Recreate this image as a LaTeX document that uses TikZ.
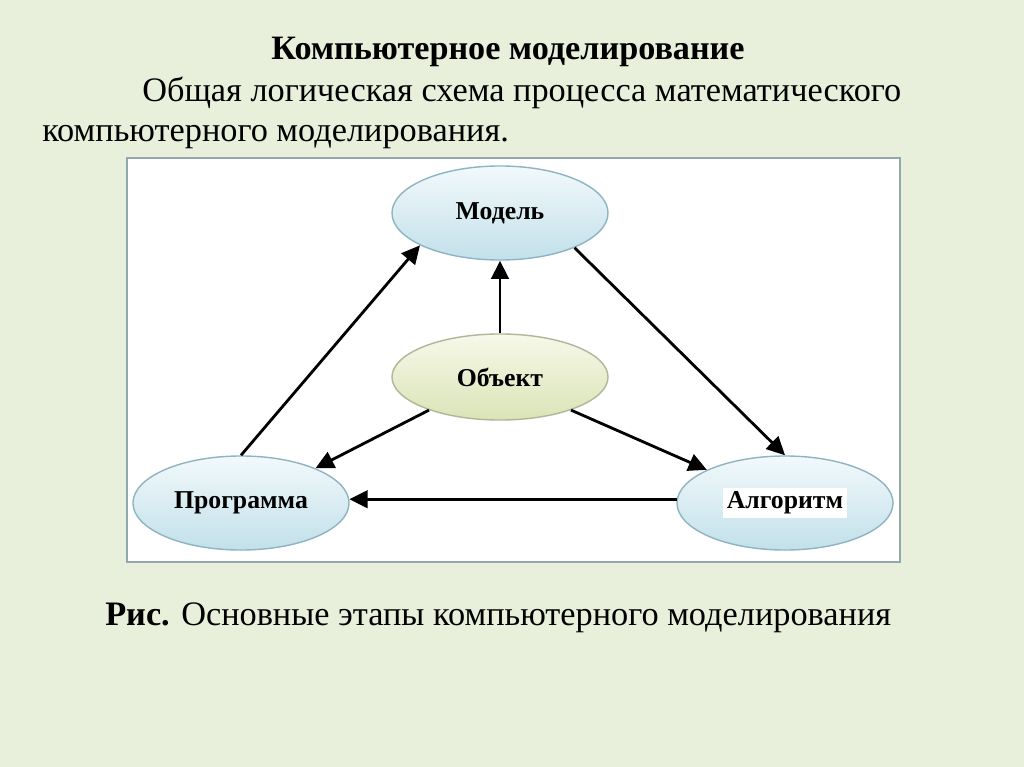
\documentclass[tikz,border=0pt]{standalone}
\usepackage{fontspec}
\setmainfont{Liberation Serif}
\usetikzlibrary{arrows.meta,shapes.geometric,positioning}
\definecolor{slide}{HTML}{E8EFDA}
\definecolor{frameline}{HTML}{93A7B1}
\definecolor{skyTop}{HTML}{F2F9FB}
\definecolor{skyBot}{HTML}{C2E0EA}
\definecolor{skyLine}{HTML}{8EB4C2}
\definecolor{oliveTop}{HTML}{F7F8EA}
\definecolor{oliveBot}{HTML}{DAE4B6}
\definecolor{oliveLine}{HTML}{AEB899}
\tikzset{
  stagebox/.style={ellipse,inner sep=0pt,minimum width=5.4cm,minimum height=2.35cm,
    line width=1pt,font=\fontsize{18.3}{22}\selectfont\bfseries,text=black},
  bluestage/.style={stagebox,draw=skyLine,top color=skyTop,bottom color=skyBot},
  olivestage/.style={stagebox,draw=oliveLine,top color=oliveTop,bottom color=oliveBot},
  arrow/.style={-{Triangle[length=13pt,width=12.5pt]},line width=2pt,draw=black},
  headtext/.style={anchor=base,inner sep=0pt,font=\fontsize{24.3}{28}\selectfont\bfseries},
  bodytext/.style={anchor=base west,inner sep=0pt,font=\fontsize{24.4}{30}\selectfont}
}

\begin{document}
\begin{tikzpicture}[x=0.025cm,y=-0.025cm]
  \fill[slide] (0,0) rectangle (1024,767);
  \useasboundingbox (0,0) rectangle (1024,767);

  \node[headtext] (title) at (508,60) {Компьютерное моделирование};
  \node[bodytext] (line1) at (142,102) {Общая логическая схема процесса математического};
  \node[bodytext] (line2) at (42,142) {компьютерного моделирования.};

  \draw[frameline,line width=1.2pt,fill=white] (127,158) rectangle (900,562);

  \node[bluestage] (model) at (500,213) {Модель};
  \node[olivestage,minimum height=2.15cm] (object) at (500,377) {Объект};
  \node[bluestage] (program) at (241,503) {Программа};
  \node[bluestage] (algo) at (785,503) {\colorbox{white}{Алгоритм}};

  \draw[arrow] (object.north) -- (model.south);
  \draw[arrow] (program.north) -- (model.202);
  \draw[arrow] (model.335) -- (algo.north);
  \draw[arrow] (object.205) -- (program.25);
  \draw[arrow] (object.335) -- (algo.157);
  \draw[arrow] (algo.178) -- (program.2);

  \node[bodytext] (caption) at (105,625) {\textbf{Рис.} Основные этапы компьютерного моделирования};
\end{tikzpicture}
\end{document}
